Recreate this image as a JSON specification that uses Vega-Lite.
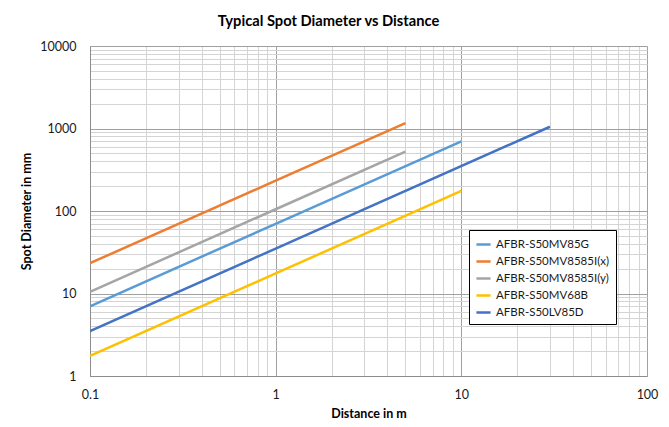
{
  "$schema": "https://vega.github.io/schema/vega-lite/v6.json",
  "width": 557,
  "height": 330,
  "autosize": {"type": "none"},
  "padding": {"left": 90, "top": 46, "right": 22, "bottom": 51},
  "background": "white",
  "title": {
    "text": "Typical Spot Diameter vs Distance",
    "font": "Lato",
    "fontSize": 14.7,
    "fontWeight": "bold",
    "color": "#000000",
    "anchor": "middle",
    "frame": "group",
    "dx": -40,
    "offset": 11
  },
  "config": {
    "view": {"stroke": null},
    "font": "Lato"
  },
  "data": {
    "values": [
      {"series": "AFBR-S50MV85G", "d": 0.1, "s": 7},
      {"series": "AFBR-S50MV85G", "d": 1, "s": 70},
      {"series": "AFBR-S50MV85G", "d": 10, "s": 700},
      {"series": "AFBR-S50MV8585I(x)", "d": 0.1, "s": 23.3},
      {"series": "AFBR-S50MV8585I(x)", "d": 1, "s": 233},
      {"series": "AFBR-S50MV8585I(x)", "d": 5, "s": 1165},
      {"series": "AFBR-S50MV8585I(y)", "d": 0.1, "s": 10.5},
      {"series": "AFBR-S50MV8585I(y)", "d": 1, "s": 105},
      {"series": "AFBR-S50MV8585I(y)", "d": 5, "s": 525},
      {"series": "AFBR-S50MV68B", "d": 0.1, "s": 1.75},
      {"series": "AFBR-S50MV68B", "d": 1, "s": 17.5},
      {"series": "AFBR-S50MV68B", "d": 10, "s": 175},
      {"series": "AFBR-S50LV85D", "d": 0.1, "s": 3.5},
      {"series": "AFBR-S50LV85D", "d": 1, "s": 35},
      {"series": "AFBR-S50LV85D", "d": 30, "s": 1050}
    ]
  },
  "mark": {"type": "line", "strokeWidth": 2.5, "clip": true},
  "encoding": {
    "x": {
      "field": "d",
      "type": "quantitative",
      "scale": {"type": "log", "domain": [0.1, 100], "nice": false},
      "axis": {
        "title": "Distance in m",
        "titleFontSize": 12.5,
        "titleFontWeight": "bold",
        "titleColor": "#000000",
        "titlePadding": 7,
        "values": [0.1, 0.2, 0.3, 0.4, 0.5, 0.6, 0.7, 0.8, 0.9, 1, 2, 3, 4, 5, 6, 7, 8, 9, 10, 20, 30, 40, 50, 60, 70, 80, 90, 100],
        "labelExpr": "abs(log(datum.value)/LN10 - round(log(datum.value)/LN10)) < 0.000001 ? (datum.value < 1 ? '0.1' : format(datum.value, 'd')) : ''",
        "labelFontSize": 12.5,
        "labelColor": "#1a1a1a",
        "labelPadding": 12,
        "labelFlush": false,
        "labelOverlap": false,
        "ticks": false,
        "domainColor": "#8c8c8c",
        "domainWidth": 1,
        "grid": true,
        "gridColor": {"condition": {"test": "abs(log(datum.value)/LN10 - round(log(datum.value)/LN10)) < 0.000001", "value": "#a0a0a0"}, "value": "#d4d4d4"},
        "gridWidth": 1
      }
    },
    "y": {
      "field": "s",
      "type": "quantitative",
      "scale": {"type": "log", "domain": [1, 10000], "nice": false},
      "axis": {
        "title": "Spot Diameter in mm",
        "titleFontSize": 12.5,
        "titleFontWeight": "bold",
        "titleColor": "#000000",
        "titlePadding": 6,
        "values": [1, 2, 3, 4, 5, 6, 7, 8, 9, 10, 20, 30, 40, 50, 60, 70, 80, 90, 100, 200, 300, 400, 500, 600, 700, 800, 900, 1000, 2000, 3000, 4000, 5000, 6000, 7000, 8000, 9000, 10000],
        "labelExpr": "abs(log(datum.value)/LN10 - round(log(datum.value)/LN10)) < 0.000001 ? format(datum.value, 'd') : ''",
        "labelFontSize": 12.5,
        "labelColor": "#1a1a1a",
        "labelPadding": 14,
        "labelFlush": false,
        "labelOverlap": false,
        "ticks": false,
        "domainColor": "#8c8c8c",
        "domainWidth": 1,
        "grid": true,
        "gridColor": {"condition": {"test": "abs(log(datum.value)/LN10 - round(log(datum.value)/LN10)) < 0.000001", "value": "#a0a0a0"}, "value": "#d4d4d4"},
        "gridWidth": 1
      }
    },
    "color": {
      "field": "series",
      "type": "nominal",
      "sort": null,
      "scale": {
        "domain": ["AFBR-S50MV85G", "AFBR-S50MV8585I(x)", "AFBR-S50MV8585I(y)", "AFBR-S50MV68B", "AFBR-S50LV85D"],
        "range": ["#5B9BD5", "#ED7D31", "#A5A5A5", "#FFC000", "#4472C4"]
      },
      "legend": {
        "title": null,
        "orient": "none",
        "legendX": 379,
        "legendY": 184,
        "fillColor": "white",
        "strokeColor": "#000000",
        "padding": 6,
        "symbolType": "stroke",
        "symbolStrokeWidth": 2.5,
        "symbolSize": 200,
        "labelFontSize": 11.5,
        "labelColor": "#1a1a1a",
        "labelLimit": 200,
        "rowPadding": 3,
        "offset": 0
      }
    }
  }
}
